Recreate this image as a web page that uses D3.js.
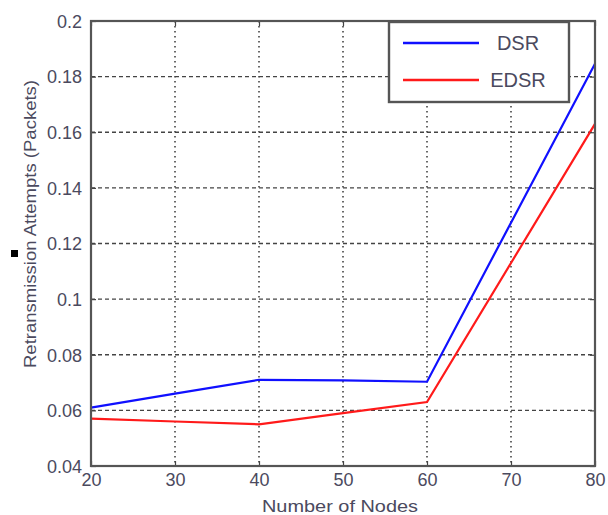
<!DOCTYPE html>
<html>
<head>
<meta charset="utf-8">
<script src="https://cdn.jsdelivr.net/npm/d3@7"></script>
<style>
  body { margin: 0; background: #fff; }
  text { font-family: Arial, "Liberation Sans", sans-serif; }
</style>
</head>
<body>
<svg id="chart" width="608" height="515"></svg>
<script>
// data
var nodes = [20, 30, 40, 50, 60, 70, 80];
var dsr = [0.061, 0.066, 0.071, 0.0708, 0.0703, 0.1275, 0.1846];
var edsr = [0.057, 0.056, 0.055, 0.059, 0.063, 0.113, 0.163];
var yTicks = [0.04, 0.06, 0.08, 0.1, 0.12, 0.14, 0.16, 0.18, 0.2];
var xTicks = [20, 30, 40, 50, 60, 70, 80];
var seriesNames = ["DSR", "EDSR"];
var seriesColors = ["#1010ff", "#ff1a1a"];

var svg = d3.select("#chart");
// plot box (window.top is reserved, so no plain "top")
var plotLeft = 91, plotRight = 595, plotTop = 21, plotBottom = 466;
var labelColor = "#4b4a5e";

var x = d3.scaleLinear().domain([20, 80]).range([plotLeft, plotRight]);
var y = d3.scaleLinear().domain([0.04, 0.2]).range([plotBottom, plotTop]);

// grid
svg.append("g").selectAll("line")
    .data(yTicks.slice(1, -1))
    .enter().append("line")
    .attr("x1", plotLeft).attr("x2", plotRight)
    .attr("y1", function(d) { return y(d); })
    .attr("y2", function(d) { return y(d); })
    .attr("stroke", "#444")
    .attr("stroke-width", 1.3)
    .attr("stroke-dasharray", "4,3");

svg.append("g").selectAll("line")
    .data(xTicks.slice(1, -1))
    .enter().append("line")
    .attr("y1", plotTop).attr("y2", plotBottom)
    .attr("x1", function(d) { return x(d); })
    .attr("x2", function(d) { return x(d); })
    .attr("stroke", "#444")
    .attr("stroke-width", 1.6)
    .attr("stroke-dasharray", "1.6,3.4");

// lines
var line = d3.line()
    .x(function(d, i) { return x(nodes[i]); })
    .y(function(d) { return y(d); });

[dsr, edsr].forEach(function(s, k) {
    svg.append("path")
        .datum(s)
        .attr("d", line)
        .attr("fill", "none")
        .attr("stroke", seriesColors[k])
        .attr("stroke-width", 2.2);
});

// axes (ticks inward on all sides)
var yAxis = d3.axisLeft(y).tickValues(yTicks).tickSize(-5).tickFormat(function(d) {
    return d3.format("")(+d.toFixed(2));
}).tickPadding(9);
var xAxis = d3.axisBottom(x).tickValues(xTicks).tickSize(-5).tickPadding(9);

var gy = svg.append("g").attr("transform", "translate(" + plotLeft + ",0)").call(yAxis);
var gx = svg.append("g").attr("transform", "translate(0," + plotBottom + ")").call(xAxis);
svg.append("g").attr("transform", "translate(" + plotRight + ",0)")
    .call(d3.axisRight(y).tickValues(yTicks).tickSize(-5).tickFormat(""));
svg.append("g").attr("transform", "translate(0," + plotTop + ")")
    .call(d3.axisTop(x).tickValues(xTicks).tickSize(-5).tickFormat(""));

svg.selectAll(".domain").remove();
svg.selectAll(".tick line").attr("stroke", "#444").attr("stroke-width", 1.2);
gy.selectAll("text").attr("font-size", 18).attr("fill", labelColor).attr("dy", "0.35em");
gx.selectAll("text").attr("font-size", 18).attr("fill", labelColor).attr("dy", "0.6em");

// frame
svg.append("rect")
    .attr("x", plotLeft).attr("y", plotTop)
    .attr("width", plotRight - plotLeft).attr("height", plotBottom - plotTop)
    .attr("fill", "none")
    .attr("stroke", "#555")
    .attr("stroke-width", 2.2);

// legend
var legend = svg.append("g").attr("transform", "translate(389,22)");
legend.append("rect")
    .attr("width", 180).attr("height", 80)
    .attr("fill", "#fff")
    .attr("stroke", "#555")
    .attr("stroke-width", 2.4);
seriesNames.forEach(function(name, i) {
    var ly = 21 + i * 37;
    legend.append("line")
        .attr("x1", 14).attr("x2", 90)
        .attr("y1", ly).attr("y2", ly)
        .attr("stroke", seriesColors[i])
        .attr("stroke-width", 2.4);
    legend.append("text")
        .attr("x", 129).attr("y", ly + 7)
        .attr("text-anchor", "middle")
        .attr("font-size", 20)
        .attr("fill", labelColor)
        .text(name);
});

// axis titles
svg.append("text")
    .attr("x", 340).attr("y", 512)
    .attr("text-anchor", "middle")
    .attr("font-size", 17)
    .attr("fill", labelColor)
    .attr("textLength", 156)
    .attr("lengthAdjust", "spacingAndGlyphs")
    .text("Number of Nodes");

svg.append("text")
    .attr("transform", "translate(36,224) rotate(-90)")
    .attr("text-anchor", "middle")
    .attr("font-size", 17)
    .attr("fill", labelColor)
    .attr("textLength", 288)
    .attr("lengthAdjust", "spacingAndGlyphs")
    .text("Retransmission Attempts (Packets)");

// small square mark left of the title
svg.append("rect")
    .attr("x", 11).attr("y", 250)
    .attr("width", 7).attr("height", 7)
    .attr("fill", "#000");
</script>
</body>
</html>
